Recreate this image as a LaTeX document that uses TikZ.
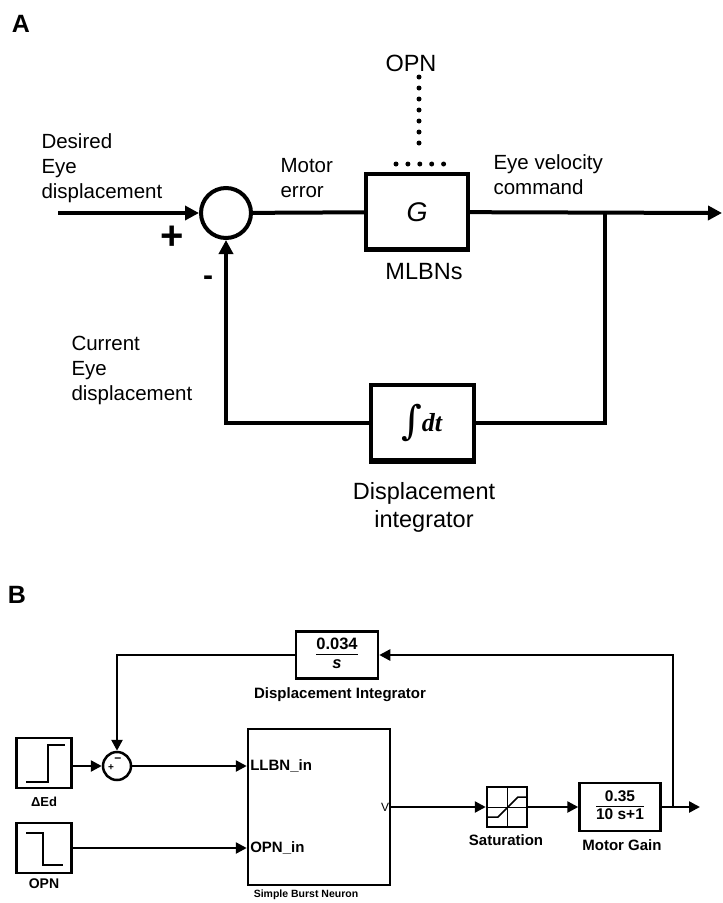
\documentclass[tikz,border=0pt]{standalone}
\usepackage{fontspec}
\setmainfont{Liberation Sans}
\newfontfamily\timesfont{Liberation Serif}
\newfontfamily\intfont{DejaVu Serif}
\usetikzlibrary{calc,positioning,arrows.meta,shapes}
\newcommand{\frc}[2]{{\setlength{\arrayrulewidth}{1.4pt}\renewcommand{\arraystretch}{1.1}%
    \begin{tabular}{@{}c@{}}#1\\[-1pt]\hline #2\end{tabular}}}
\tikzset{
    >={Triangle[length=14pt,width=14pt]},
    blockA/.style={
        rectangle,
        draw=black, line width=4pt,
        minimum width=102pt,
        minimum height=76pt,
        font=\fontsize{27}{28}\selectfont
    },
    labelA/.style={align=left, font=\fontsize{20.5}{25}\selectfont},
    bigA/.style={align=center, font=\fontsize{23.5}{28}\selectfont},
    lineA/.style={line width=4pt},
    blockB/.style={
        rectangle,
        draw=black, line width=2.5pt,
        inner sep=2pt,
        font=\bfseries\fontsize{16.5}{17}\selectfont
    },
    labelB/.style={font=\bfseries\fontsize{15}{17}\selectfont},
    lineB/.style={line width=2.5pt, -{Triangle[length=11pt,width=11pt]}},
    dots/.style={line width=5pt, line cap=round}
}

\begin{document}
\begin{tikzpicture}[x=1pt,y=-1pt]
\useasboundingbox (0,0) rectangle (723,903);
\node[font=\bfseries\fontsize{25}{25}\selectfont] (tagA) at (21,24) {A};
\node[circle, draw, line width=4pt, minimum size=50pt] (S) at (226,213) {};
\node[blockA] (G) at (417,212) {\textit{G}};
\node[blockA, minimum width=103pt, minimum height=77pt, inner sep=0pt] (J) at (422,423)
    {\raisebox{-3pt}{\intfont\fontsize{40}{40}\selectfont ∫}\hspace{-1pt}{\timesfont\bfseries\itshape\fontsize{26}{26}\selectfont dt}};
\draw[line width=3pt] ($(G.south west)+(3,-4)$) -- ($(G.south east)+(-3,-4)$);
\draw[line width=3pt] ($(J.south west)+(3,-4)$) -- ($(J.south east)+(-3,-4)$);
\node[bigA] (opn) at (411,63) {OPN};
\node[bigA] (mlbn) at (424,272) {MLBNs};
\node[bigA] (dint) at (424,507) {Displacement\\integrator};
\node[labelA, anchor=west] (des) at (38,168) {Desired\\Eye\\displacement};
\node[labelA, anchor=west] (cur) at (68,370) {Current\\Eye\\displacement};
\node[labelA, anchor=west] (err) at (277,178) {Motor\\error};
\node[labelA, anchor=west] (vel) at (490,175) {Eye velocity\\command};
\node[font=\bfseries\fontsize{40}{40}\selectfont] (plus) at (172,238) {+};
\node[font=\bfseries\fontsize{30}{30}\selectfont] (minus) at (208,281) {-};
\coordinate (o1) at (419,77);
\coordinate (o2) at (419,154);
\coordinate (h1) at (396,164);
\coordinate (h2) at (444,164);
\coordinate (in) at (58,213);
\coordinate (br) at (605,213);
\coordinate (out) at (722,213);
\draw[dots, dash pattern=on 0pt off 11pt] (o1) -- (o2);
\draw[dots, dash pattern=on 0pt off 11.9pt] (h1) -- (h2);
\draw[lineA,->] (in) -- (S);
\draw[lineA] (S) -- (G);
\draw[lineA,->] (G) -- (out);
\draw[lineA] (br) |- (J);
\draw[lineA,->] (J) -| (S);

\node[font=\bfseries\fontsize{25}{25}\selectfont] (tagB) at (17,595) {B};
\node[blockB, minimum width=82pt, minimum height=47pt] (I) at (337,655) {\frc{0.034}{\textit{s}}};
\node[labelB] (ilab) at (340,695) {Displacement Integrator};
\node[circle, draw, line width=2.5pt, minimum size=28pt] (T) at (117,766) {};
\node[font=\bfseries\fontsize{10}{10}\selectfont] at ($(T)+(-6,2)$) {+};
\node[font=\bfseries\fontsize{12}{12}\selectfont] at ($(T)+(1,-6)$) {\textminus};
\node[blockB, minimum width=55pt, minimum height=50pt] (D) at (44,763) {};
\node[blockB, minimum width=55pt, minimum height=50pt] (O) at (44,848) {};
\draw[line width=1.5pt] (26,782) -- (48,782) -- (48,745) -- (65,745);
\draw[line width=1.5pt] (26,833) -- (43,833) -- (43,865) -- (63,865);
\node[labelB, font=\bfseries\fontsize{13}{13}\selectfont] (dlab) at (44,802) {ΔEd};
\node[labelB, font=\bfseries\fontsize{14}{14}\selectfont] (olab) at (44,884) {OPN};
\node[blockB, minimum width=142pt, minimum height=156pt] (N) at (319,807) {};
\node[labelB, anchor=west] (llbn) at (N.west |- T) {LLBN\_in};
\node[labelB, anchor=west] (opnin) at (N.west |- O) {OPN\_in};
\node[font=\fontsize{12}{12}\selectfont, anchor=east, inner sep=2pt] (vout) at (N.east) {V};
\node[font=\bfseries\fontsize{10.5}{12}\selectfont] (nlab) at (306,895) {Simple Burst Neuron};
\node[blockB, minimum size=40pt] (Q) at (507,807) {};
\draw[line width=1pt] (Q.north) -- (Q.south) (Q.west) -- (Q.east);
\draw[line width=1.5pt] (488,817) -- (498,817) -- (518,797) -- (526,797);
\node[labelB] (qlab) at (506,840) {Saturation};
\node[blockB, minimum width=81pt, minimum height=48pt, font=\bfseries\fontsize{15.5}{16}\selectfont] (M) at (620,807) {\frc{0.35}{10 s+1}};
\node[labelB] (mlab) at (622,845) {Motor Gain};
\coordinate (P) at (673,807);
\coordinate (E) at (700,807);
\draw[lineB] (D.east |- T) -- (T);
\draw[lineB] (T) -- (T -| N.west);
\draw[lineB] (O) -- (O -| N.west);
\draw[lineB] (N) -- (Q);
\draw[lineB] (Q) -- (M);
\draw[lineB] (M) -- (E);
\draw[lineB] (P) |- (I);
\draw[lineB] (I) -| (T);
\end{tikzpicture}
\end{document}
